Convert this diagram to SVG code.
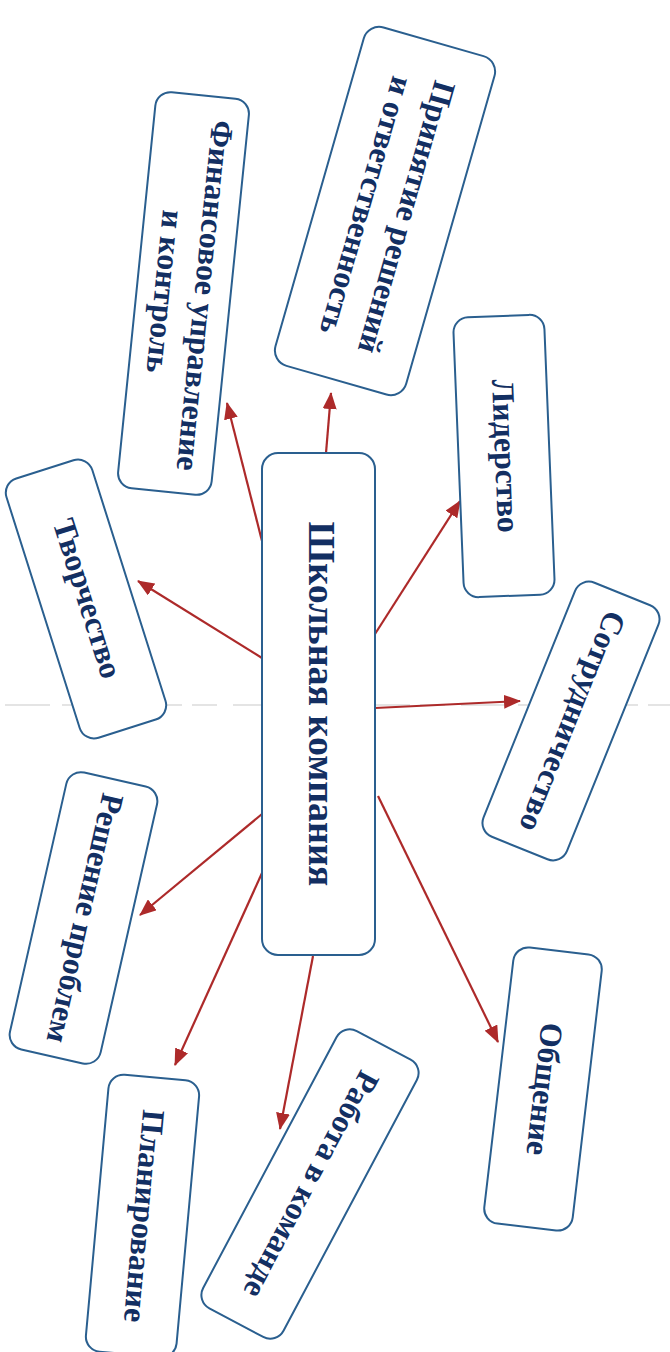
<svg xmlns="http://www.w3.org/2000/svg" width="670" height="1352" viewBox="0 0 670 1352">
<style>
.box{fill:#ffffff;stroke:#2a5f8f;stroke-width:2}
.t{font-family:"Liberation Serif","Times New Roman",serif;font-weight:bold;font-size:32px;fill:#132f62;text-anchor:middle}
.big{font-size:38px}
.c{stroke:#ad2a2a;stroke-width:2.2;fill:none;marker-end:url(#ah)}
.fold{stroke:#e4e4e4;stroke-width:2;stroke-dasharray:45 12 30 20 70 10 25 16}
</style>
<defs>
<marker id="ah" viewBox="0 0 17 14" refX="16" refY="7" markerWidth="17" markerHeight="14" markerUnits="userSpaceOnUse" orient="auto">
<path d="M0,0 L17,7 L0,14 z" fill="#ad2a2a"/>
</marker>
</defs>
<rect width="670" height="1352" fill="#ffffff"/>
<line class="fold" x1="5" y1="705" x2="670" y2="705"/>

<g id="connectors">
<line class="c" x1="262" y1="541" x2="227" y2="403"/>
<line class="c" x1="326" y1="453" x2="331" y2="393"/>
<line class="c" x1="375" y1="634" x2="460" y2="501"/>
<line class="c" x1="375" y1="708" x2="520" y2="701"/>
<line class="c" x1="378" y1="796" x2="498" y2="1042"/>
<line class="c" x1="262" y1="658" x2="138" y2="581"/>
<line class="c" x1="262" y1="814" x2="140" y2="915"/>
<line class="c" x1="262" y1="873" x2="175" y2="1065"/>
<line class="c" x1="313" y1="956" x2="280" y2="1129"/>
</g>

<g id="center">
<rect class="box" x="262" y="453" width="113" height="502" rx="16"/>
<g transform="translate(318.5,704) rotate(90)">
<text class="t big" x="0" y="10">Школьная компания</text>
</g>
</g>

<g id="finance" transform="translate(183.5,293.5) rotate(95.8)">
<rect class="box" x="-199" y="-47" width="398" height="94" rx="15"/>
<text class="t" x="0" y="-11">Финансовое управление</text>
<text class="t" x="0" y="29">и контроль</text>
</g>

<g id="decisions" transform="translate(385,211) rotate(106)">
<rect class="box" x="-176" y="-68" width="352" height="136" rx="16"/>
<text class="t" x="0" y="-12">Принятие решений</text>
<text class="t" x="0" y="30">и ответственность</text>
</g>

<g id="leadership" transform="translate(504,456) rotate(87.7)">
<rect class="box" x="-140" y="-45.5" width="280" height="91" rx="15"/>
<text class="t" x="0" y="9">Лидерство</text>
</g>

<g id="cooperation" transform="translate(571,721) rotate(112)">
<rect class="box" x="-137" y="-45" width="274" height="90" rx="15"/>
<text class="t" x="0" y="9">Сотрудничество</text>
</g>

<g id="communication" transform="translate(543,1089) rotate(96.7)">
<rect class="box" x="-139" y="-44.5" width="278" height="89" rx="15"/>
<text class="t" x="0" y="9">Общение</text>
</g>

<g id="teamwork" transform="translate(310,1184) rotate(118)">
<rect class="box" x="-157" y="-45.5" width="314" height="91" rx="15"/>
<text class="t" x="0" y="9">Работа в команде</text>
</g>

<g id="planning" transform="translate(142.5,1216) rotate(95.2)">
<rect class="box" x="-139" y="-45.5" width="278" height="91" rx="15"/>
<text class="t" x="0" y="9">Планирование</text>
</g>

<g id="problems" transform="translate(83.5,918) rotate(102.8)">
<rect class="box" x="-142" y="-46.5" width="284" height="93" rx="15"/>
<text class="t" x="0" y="9">Решение проблем</text>
</g>

<g id="creativity" transform="translate(86,599) rotate(72.4)">
<rect class="box" x="-136" y="-45" width="272" height="90" rx="15"/>
<text class="t" x="0" y="9">Творчество</text>
</g>
</svg>
